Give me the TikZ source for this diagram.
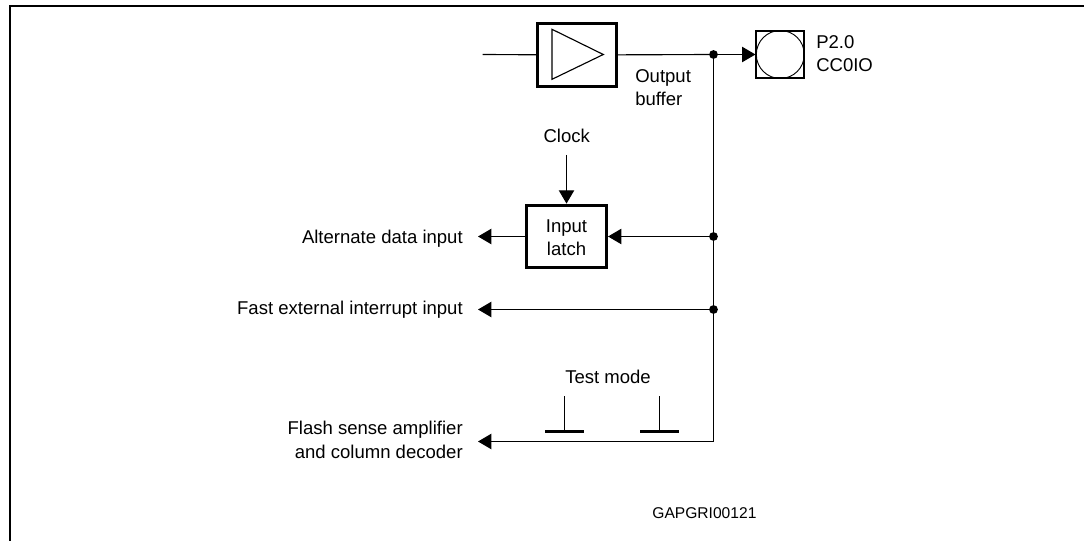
\documentclass[tikz,border=0pt]{standalone}
\usepackage{fontspec}
\setmainfont{Liberation Sans}
\usetikzlibrary{arrows.meta,calc}
\begin{document}
\begin{tikzpicture}[x=0.75pt,y=-0.75pt,
    every node/.style={font=\fontsize{13.9}{17.5}\selectfont,inner sep=0pt},
    wire/.style={line width=0.85pt},
    sig/.style={wire,-{Triangle[length=10pt,width=11.5pt]}},
    block/.style={draw,line width=2.3pt,inner sep=0pt,align=center},
    junction/.style={circle,fill,minimum size=6.6pt},
    bar/.style={line width=2.3pt}]
  \useasboundingbox (0,0) rectangle (1084,541);
  % frame
  \draw[line width=1.6pt] (1084,6)--(10,6)--(10,541);
  % output stage
  \coordinate (in) at (482.7,54.5);
  \node[block,minimum width=59pt,minimum height=47.5pt] (buffer) at (577.2,55) {};
  \draw[wire] (552,29.3)--(552,79.3)--(603.3,54.5)--cycle;
  \node[junction] (jout) at (713.5,54.5) {};
  \node[draw,line width=1.3pt,minimum width=36pt,minimum height=35.5pt] (pad) at (780.3,54.5) {};
  \draw[line width=0.7pt] (pad.center) circle (18pt);
  \draw[wire] (in)--(buffer);
  \draw[wire] (buffer)--(jout);
  \draw[sig] (jout)--(pad);
  \node[anchor=base west,align=left] (padlabel) at (816,71.5) {P2.0\\CC0IO};
  \node[anchor=base west,align=left] (bufferlabel) at (635,105.5) {Output\\buffer};
  % input latch
  \node[anchor=base] (clock) at (566.7,142.5) {Clock};
  \coordinate (clockin) at (566.5,155);
  \node[block,minimum width=60pt,minimum height=47pt] (latch) at (566.5,236.5) {\rule{0pt}{11.5pt}Input\\latch};
  \node[junction] (jlatch) at (713.5,236.5) {};
  \node[junction] (jfast) at (713.5,309.5) {};
  \coordinate (corner) at (713.5,441.5);
  \draw[sig] (clockin)--(latch);
  \draw[sig] (jlatch)--(latch);
  \draw[wire] (jout)--(jlatch)--(jfast)--(corner);
  \node[anchor=base east] (altlabel) at (463,243.5) {Alternate data input};
  \node[anchor=base east] (fastlabel) at (463,315) {Fast external interrupt input};
  \node[anchor=base east,align=right] (flashlabel) at (463,458) {Flash sense amplifier\\and column decoder};
  \coordinate (alttip) at (478,236.5);
  \coordinate (fasttip) at (478,309.5);
  \coordinate (flashtip) at (478,441.5);
  \draw[sig] (latch)--(alttip);
  \draw[sig] (jfast)--(fasttip);
  \draw[sig] (corner)--(flashtip);
  % test mode
  \node[anchor=base] (testlabel) at (608,383.5) {Test mode};
  \foreach \name/\px in {a/564.5,b/659.5}{
    \coordinate (stub\name) at (\px,396);
    \coordinate (bar\name) at (\px,431.3);
    \draw[wire] (stub\name)--(bar\name);
    \draw[bar] ($(bar\name)+(-19.5,0)$)--($(bar\name)+(19.5,0)$);
  }
  \node[anchor=base east,font=\fontsize{11.7}{14}\selectfont] (gap) at (756.7,518.3) {GAPGRI00121};
\end{tikzpicture}
\end{document}
